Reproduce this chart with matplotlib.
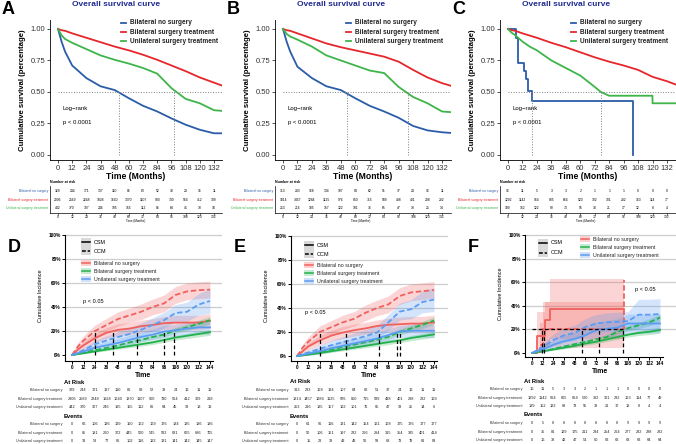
import matplotlib.pyplot as plt
from matplotlib import transforms
from matplotlib.lines import Line2D
from matplotlib.patches import Rectangle

plt.rcParams['font.family'] = ['Liberation Sans', 'DejaVu Sans']

W, H = 676, 444

# ---------------- overall survival (A, B, C) ----------------
km_t = [0, 3, 6, 12, 24, 36, 48, 60, 72, 84, 96, 108, 120, 132, 139]

a_blue = [1.0, 0.90, 0.82, 0.71, 0.61, 0.545, 0.515, 0.45, 0.39, 0.345, 0.29, 0.24, 0.20, 0.172, 0.172]
a_red = [1.0, 0.99, 0.985, 0.965, 0.93, 0.895, 0.86, 0.83, 0.795, 0.755, 0.71, 0.665, 0.615, 0.574, 0.55]
a_green = [1.0, 0.95, 0.92, 0.89, 0.84, 0.79, 0.755, 0.725, 0.69, 0.645, 0.53, 0.445, 0.41, 0.355, 0.35]
a_medians = [52, 98.5]

b_blue = [1.0, 0.90, 0.82, 0.70, 0.61, 0.545, 0.515, 0.45, 0.39, 0.345, 0.295, 0.23, 0.195, 0.18, 0.175]
b_red = [1.0, 0.99, 0.985, 0.965, 0.925, 0.885, 0.855, 0.83, 0.805, 0.78, 0.74, 0.675, 0.615, 0.57, 0.55]
b_green = [1.0, 0.96, 0.94, 0.915, 0.86, 0.79, 0.75, 0.71, 0.67, 0.65, 0.54, 0.46, 0.41, 0.345, 0.34]
b_medians = [53, 104]

c_red = [1.0, 0.99, 0.985, 0.965, 0.93, 0.89, 0.855, 0.815, 0.775, 0.74, 0.71, 0.675, 0.62, 0.585, 0.56]
c_green_t = [0, 3, 6, 12, 18, 24, 36, 48, 60, 72, 77, 84, 96, 108, 119.9, 120, 132, 139]
c_green = [1.0, 0.97, 0.95, 0.90, 0.86, 0.83, 0.75, 0.69, 0.63, 0.54, 0.50, 0.47, 0.47, 0.47, 0.47, 0.41, 0.41, 0.41]
c_blue_t = [0, 6.5, 8, 13, 15, 16.5, 20, 104]
c_blue = [1.0, 0.93, 0.73, 0.67, 0.60, 0.51, 0.43, 0.0]
c_medians = [20, 77]

km_groups = ['Bilateral no surgery', 'Bilateral surgery treatment', 'Unilateral surgery treatment']
km_ticks = list(range(0, 133, 12))

a_risk = [[329, 244, 171, 137, 110, 86, 63, 52, 38, 24, 16, 11],
          [2906, 2569, 2248, 1928, 1640, 1370, 1107, 900, 730, 564, 412, 309],
          [442, 370, 307, 246, 195, 155, 112, 86, 64, 45, 33, 18]]
b_risk = [[313, 233, 168, 134, 107, 84, 62, 51, 37, 24, 16, 11],
          [1814, 1457, 1284, 1125, 976, 850, 715, 589, 498, 401, 298, 232],
          [253, 216, 185, 157, 122, 101, 76, 65, 47, 33, 25, 14]]
c_risk = [[16, 11, 5, 3, 3, 2, 1, 1, 1, 0, 0, 0],
          [1292, 1142, 964, 805, 664, 520, 392, 301, 232, 163, 114, 77],
          [189, 152, 122, 89, 73, 55, 38, 21, 17, 12, 8, 4]]

# ---------------- cumulative incidence (D, E, F) ----------------
ci_t = [0, 6, 12, 24, 36, 48, 60, 72, 84, 96, 108, 120, 132, 144]

d_red_csm = [0, 4.5, 8, 14, 18.5, 21, 22, 24, 25, 26.5, 27, 27, 27, 28.5]
d_red_ocm = [0, 7, 12, 20, 25, 30, 33, 36, 40, 43, 50, 53, 54, 54.5]
d_green_csm = [0, 0.7, 1.5, 3, 4.5, 6, 7.5, 9, 10.5, 12.5, 14.5, 16, 17.5, 19]
d_green_ocm = [0, 1, 2, 4, 6, 8, 10.5, 12.5, 15, 17, 20.5, 23, 26, 29]
d_blue_csm = [0, 1.5, 3, 6, 8, 10, 12.5, 15, 17, 19.5, 20.5, 22, 23, 23]
d_blue_ocm = [0, 2, 4, 9, 12, 15, 17.5, 21, 25, 29, 35, 36, 42, 45]
d_red_ci = [0, 2, 3, 4, 4.5, 5, 5, 5, 5, 5.5, 6, 6, 6, 6]
d_red_ocm_ci = [0, 3, 4, 5, 5.5, 6, 6, 6.5, 6.5, 7, 7, 7, 7, 7]
d_green_ci = [0, 0.3, 0.5, 0.8, 1, 1.2, 1.4, 1.6, 1.8, 2, 2, 2.2, 2.4, 2.5]
d_green_ocm_ci = [0, 0.3, 0.5, 0.8, 1, 1.2, 1.5, 1.7, 2, 2.2, 2.5, 2.7, 3, 3]
d_blue_ci = [0, 1, 1.5, 2.5, 3, 3.5, 4, 4, 4.5, 5, 5, 5.5, 5.5, 5.5]
d_blue_ocm_ci = [0, 1.5, 2, 3, 4, 4.5, 5, 5.5, 6, 6.5, 7, 8, 9, 10]
d_cross = [24, 43, 68, 96, 106]

e_red_csm = [0, 4, 8, 13, 17, 19.5, 21.5, 23, 25, 26, 26.5, 27, 27, 28]
e_red_ocm = [0, 7, 12, 20, 24, 28, 31, 36, 40, 43, 50, 53, 54, 55]
e_green_csm = [0, 0.6, 1.2, 2.5, 4, 5.5, 7, 8.5, 10, 11.5, 13, 15, 16.5, 18]
e_green_ocm = [0, 0.8, 1.6, 3.5, 5.5, 7.5, 9.5, 11.5, 13.5, 16, 20, 23, 26, 29.5]
e_blue_csm = [0, 1, 2, 4, 6.5, 8.5, 10.5, 12.5, 14.5, 17.5, 20.5, 21, 21, 21]
e_blue_ocm = [0, 1.5, 3, 6, 9, 11.5, 14, 16.5, 19.5, 28, 37, 39, 45, 47]
e_cross = [24, 51, 86, 105, 108]

f_red_csm_t = [0, 6, 15, 20, 104]
f_red_csm = [0, 14, 28, 37, 37]
f_red_csm_lo = [0, 1, 5, 12, 12]
f_red_csm_hi = [0, 35, 43, 63, 63]
f_red_ocm_t = [0, 9, 12, 104]
f_red_ocm = [0, 7, 20, 62]
f_red_ocm_lo = [0, 1, 4, 4]
f_red_ocm_hi = [0, 25, 43, 43]
f_green_csm = [0, 0.8, 1.5, 3, 4.5, 6, 8, 9.5, 11.5, 13.5, 15.5, 17, 18, 19.5]
f_green_ocm = [0, 0.8, 1.6, 3.5, 5.5, 7.5, 9.5, 11.5, 13.5, 18, 21, 23.5, 26, 30]
f_blue_csm = [0, 1.5, 3, 7, 10, 12, 15, 19.5, 20.5, 21.5, 25, 25, 25, 25]
f_blue_ocm = [0, 2.5, 5, 11, 15, 17, 22, 25, 26, 26.5, 27, 32.5, 32.5, 33]
f_blue_ci = [0, 1.5, 2.5, 4, 5, 5.5, 6, 6.5, 7, 7.5, 8, 8, 8, 8]
f_blue_ocm_ci = [0, 2, 3, 5, 6, 6.5, 7, 7.5, 8, 8, 8, 13, 13, 13]
f_cross = [11, 14, 56, 75, 102]

ci_ticks = list(range(0, 145, 12))
d_atrisk = [[329, 244, 171, 137, 110, 86, 63, 52, 38, 24, 16, 11, 11],
            [2906, 2569, 2248, 1928, 1640, 1370, 1107, 900, 730, 564, 412, 309, 218],
            [442, 370, 307, 246, 195, 155, 112, 86, 64, 45, 33, 18, 13]]
d_events = [[0, 66, 106, 126, 139, 150, 162, 169, 176, 184, 185, 186, 186],
            [0, 85, 181, 260, 372, 445, 500, 545, 582, 631, 665, 686, 705],
            [0, 33, 53, 77, 86, 102, 116, 122, 131, 141, 142, 145, 147]]
e_atrisk = [[313, 233, 168, 134, 107, 84, 62, 51, 37, 24, 16, 11, 11],
            [1814, 1457, 1284, 1125, 976, 850, 715, 589, 498, 401, 298, 232, 169],
            [253, 216, 185, 157, 122, 101, 76, 65, 47, 33, 25, 14, 6]]
e_events = [[0, 61, 96, 116, 131, 142, 154, 161, 168, 175, 176, 177, 177],
            [0, 50, 106, 151, 197, 232, 266, 294, 315, 354, 385, 401, 414],
            [0, 15, 23, 33, 43, 48, 56, 59, 68, 73, 79, 81, 83]]
f_atrisk = [[16, 11, 5, 3, 3, 2, 1, 1, 1, 0, 0, 0, 0],
            [1292, 1142, 964, 805, 664, 520, 392, 301, 232, 163, 114, 77, 49],
            [189, 152, 122, 89, 73, 55, 38, 21, 17, 12, 8, 4, 4]]
f_events = [[0, 5, 8, 8, 8, 8, 8, 8, 8, 9, 9, 9, 9],
            [0, 35, 81, 129, 175, 211, 234, 254, 264, 277, 282, 288, 292],
            [0, 16, 38, 42, 47, 54, 60, 63, 63, 63, 63, 64, 64]]

KM_COLS = ['#2b5ca8', '#e6262b', '#3db54a']
CI_COLS = ['#f0605d', '#22b14c', '#5b9cf2']
CI_BOX = ['#fbd0cf', '#c6ebd0', '#cfe0fb']

fig = plt.figure(figsize=(W / 100, H / 100), dpi=100)


def box(l, t, r, b):
    return [l / W, 1 - b / H, (r - l) / W, (b - t) / H]


def ftext(x, y, s, **kw):
    fig.text(x / W, 1 - y / H, s, **kw)


def fline(x1, x2, y, **kw):
    fig.add_artist(Line2D([x1 / W, x2 / W], [1 - y / H, 1 - y / H], transform=fig.transFigure, **kw))


def frect(l, t, r, b, **kw):
    fig.add_artist(Rectangle((l / W, 1 - b / H), (r - l) / W, (b - t) / H,
                             transform=fig.transFigure, lw=0, **kw))


def km_panel(letter, pos, curves, medians, risk):
    l, r, x0, x132 = pos
    s = (x132 - x0) / 132
    ax = fig.add_axes(box(l, 20, r, 160))
    ax.set_xlim((l - x0) / s, (r - x0) / s)
    ax.set_ylim(-0.04, 1.071)
    for (t, v, step), c in zip(curves, KM_COLS):
        ax.plot(t, v, color=c, lw=1.3, drawstyle='steps-post' if step else 'default')
    ax.plot([0, 139], [0.5, 0.5], ls=':', color='#808080', lw=0.7)
    for m in medians:
        ax.plot([m, m], [0, 0.5], ls=':', color='#808080', lw=0.7)
    for sp in ['top', 'right']:
        ax.spines[sp].set_visible(False)
    ax.set_xticks(km_ticks)
    ax.set_yticks([0, 0.25, 0.5, 0.75, 1.0])
    ax.set_yticklabels(['0.00', '0.25', '0.50', '0.75', '1.00'])
    ax.tick_params(labelsize=5.5, length=2, pad=1.5, width=0.6, colors='#333333')
    for sp in ['left', 'bottom']:
        ax.spines[sp].set_linewidth(0.6)
    ax.set_xlabel('Time (Months)', fontsize=6.2, fontweight='bold', labelpad=0)
    ax.set_ylabel('Cumulative survival (percentage)', fontsize=5.6, fontweight='bold', labelpad=3)
    ax.text(4, 0.37, 'Log\u2212rank', fontsize=4.3, va='center')
    ax.text(4, 0.26, 'p < 0.0001', fontsize=4.3, va='center')
    ftext(x0 + 58, 5, 'Overall survival curve', fontsize=6, fontweight='bold',
          color='#1f2a8f', ha='center', va='center')
    ftext(l - 48, 9, letter, fontsize=13, fontweight='bold', ha='left', va='center')
    # legend
    for i, (name, c) in enumerate(zip(km_groups, KM_COLS)):
        y = 23 + 9 * i
        fline(x0 + 63, x0 + 68, y, color=c, lw=1.3)
        ftext(x0 + 72, y, name, fontsize=4.7, fontweight='bold', va='center', color='#222222')
    # risk table
    tb = fig.add_axes(box(l, 186, r, 213))
    tb.set_xlim(ax.get_xlim())
    tb.set_ylim(3.59, 0.41)
    for sp in ['top', 'right']:
        tb.spines[sp].set_visible(False)
    for sp in ['left', 'bottom']:
        tb.spines[sp].set_linewidth(0.5)
    tb.set_yticks([])
    tb.set_xticks(km_ticks)
    tb.tick_params(labelsize=2.4, length=1.2, pad=0.5, width=0.4)
    for i, row in enumerate(risk):
        for t, n in zip(km_ticks, row):
            tb.text(t, i + 1, str(n), fontsize=2.4, ha='center', va='center')
        tb.text(-0.01, i + 1, km_groups[i], transform=transforms.blended_transform_factory(tb.transAxes, tb.transData),
                fontsize=2.4, ha='right', va='center', color=KM_COLS[i])
    ftext(l, 182, 'Number at risk', fontsize=2.6, fontweight='bold', va='center')
    ftext(x0 + 78, 220.5, 'Time (Months)', fontsize=2.2, ha='center', va='center')


km_panel('A', (50, 222, 58, 214),
         [(km_t, a_blue, False), (km_t, a_red, False), (km_t, a_green, False)], a_medians, a_risk)
km_panel('B', (275, 451, 283, 442),
         [(km_t, b_blue, False), (km_t, b_red, False), (km_t, b_green, False)], b_medians, b_risk)
km_panel('C', (500, 676, 508, 667),
         [(c_blue_t, c_blue, True), (km_t, c_red, False), (c_green_t, c_green, False)], c_medians, c_risk)


def ci_panel(letter, pos, series, bands, crosses, hline, ptext, atrisk, events, leg, rows_y):
    l, r, x0, x144, y100, y0, bot = pos
    s = (x144 - x0) / 144
    sy = (y0 - y100) / 100
    ax = fig.add_axes(box(l, 231, r, bot))
    ax.set_xlim((l - x0) / s, (r - x0) / s)
    ax.set_ylim((y0 - bot) / sy, (y0 - 231) / sy)
    for g in [20, 40, 60, 80, 100]:
        ax.axhline(g, color='#cdcdcd', lw=0.9, zorder=0)
    for t, lo, hi, c, step in bands:
        ax.fill_between(t, lo, hi, color=c, alpha=0.26, lw=0, step='post' if step else None)
    for t, v, c, ls, step in series:
        ax.plot(t, v, color=c, lw=1.3, ls=ls, dashes=(3, 1.5) if ls == '--' else (None, None),
                drawstyle='steps-post' if step else 'default')
    if hline:
        ax.plot([0, max(crosses)], [20, 20], color='black', lw=0.9, dashes=(3, 2))
    for cx in crosses:
        ax.plot([cx, cx], [0, 20], color='black', lw=0.9, dashes=(3, 2))
    ax.text(ptext[0], ptext[1], 'p < 0.05', fontsize=4.1, va='center')
    for sp in ['top', 'right']:
        ax.spines[sp].set_visible(False)
    ax.spines['left'].set_bounds(ax.get_ylim()[0], 100)
    ax.spines['bottom'].set_bounds(ax.get_xlim()[0], 147)
    for sp in ['left', 'bottom']:
        ax.spines[sp].set_linewidth(0.8)
    ax.set_xticks(ci_ticks)
    ax.set_yticks([0, 20, 40, 60, 80, 100])
    ax.set_yticklabels(['0%', '20%', '40%', '60%', '80%', '100%'])
    ax.tick_params(labelsize=3.4, length=2, pad=1, width=0.7)
    for lab in ax.get_xticklabels() + ax.get_yticklabels():
        lab.set_fontweight('bold')
    ax.set_xlabel('Time', fontsize=5, fontweight='bold', labelpad=1)
    ax.set_ylabel('Cumulative Incidence', fontsize=4, labelpad=4)
    ftext(l - 57, 247, letter, fontsize=13, fontweight='bold', ha='left', va='center')
    # legends
    (cx1, cy1, cy2), (gx1, gy) = leg
    frect(cx1 - 1, cy1 - 4, cx1 + 9, cy2 + 4, color='#d9d9d9')
    fline(cx1, cx1 + 8, cy1, color='black', lw=1.1)
    fline(cx1, cx1 + 8, cy2, color='black', lw=1.1, ls=(0, (2.5, 1.2)))
    ftext(cx1 + 12, cy1, 'CSM', fontsize=3.9, va='center')
    ftext(cx1 + 12, cy2, 'OCM', fontsize=3.9, va='center')
    for i, (name, c, bc) in enumerate(zip(km_groups, CI_COLS, CI_BOX)):
        y = gy + 8 * i
        frect(gx1 - 1, y - 3, gx1 + 9, y + 3, color=bc)
        fline(gx1, gx1 + 8, y, color=c, lw=1.1)
        ftext(gx1 + 12, y, name, fontsize=3.8, va='center', color='#222222')
    # at risk / events tables
    tr = transforms.blended_transform_factory(ax.transData, fig.transFigure)
    hy, ry, ey, eyr = rows_y
    ftext(l - 1, hy, 'At Risk', fontsize=4.2, fontweight='bold', va='center')
    ftext(l - 1, ey, 'Events', fontsize=4.2, fontweight='bold', va='center')
    for block, ys in [(atrisk, ry), (events, eyr)]:
        for i, row in enumerate(block):
            y = ys + 8.5 * i
            ftext(l - 3, y, km_groups[i], fontsize=2.7, ha='right', va='center', color='#333333')
            for t, n in zip(ci_ticks, row):
                ax.text(t, 1 - y / H, str(n), transform=tr, fontsize=2.8, ha='center', va='center',
                        color='#222222')


def bands_for(t, curves, cis):
    out = []
    for v, ci, c in zip(curves, cis, [CI_COLS[0], CI_COLS[0], CI_COLS[1], CI_COLS[1], CI_COLS[2], CI_COLS[2]]):
        out.append((t, [a - b for a, b in zip(v, ci)], [a + b for a, b in zip(v, ci)], c, False))
    return out


def std_series(t, vals):
    cols = [CI_COLS[0], CI_COLS[0], CI_COLS[1], CI_COLS[1], CI_COLS[2], CI_COLS[2]]
    return [(t, v, c, '-' if i % 2 == 0 else '--', False) for i, (v, c) in enumerate(zip(vals, cols))]


ci_widths = [d_red_ci, d_red_ocm_ci, d_green_ci, d_green_ocm_ci, d_blue_ci, d_blue_ocm_ci]

d_vals = [d_red_csm, d_red_ocm, d_green_csm, d_green_ocm, d_blue_csm, d_blue_ocm]
ci_panel('D', (65, 222, 72, 210, 235, 355, 361), std_series(ci_t, d_vals),
         bands_for(ci_t, d_vals, ci_widths), d_cross, False, (11.5, 45),
         d_atrisk, d_events, ((82, 242, 251), (82, 263)), (382, 390, 416, 424))

e_vals = [e_red_csm, e_red_ocm, e_green_csm, e_green_ocm, e_blue_csm, e_blue_ocm]
ci_panel('E', (291, 448, 297, 434, 236, 356, 361), std_series(ci_t, e_vals),
         bands_for(ci_t, e_vals, ci_widths), e_cross, False, (8.4, 36),
         e_atrisk, e_events, ((305, 245, 254), (305, 265)), (381, 390, 416, 424))

f_vals = [f_green_csm, f_green_ocm, f_blue_csm, f_blue_ocm]
f_series = [(f_red_csm_t, f_red_csm, CI_COLS[0], '-', True), (f_red_ocm_t, f_red_ocm, CI_COLS[0], '--', True)] + \
    std_series(ci_t, [f_red_csm, f_red_csm] + f_vals)[2:]
f_bands = [(f_red_csm_t, f_red_csm_lo, f_red_csm_hi, CI_COLS[0], True),
           (f_red_ocm_t, f_red_ocm_lo, f_red_ocm_hi, CI_COLS[0], True)] + \
    bands_for(ci_t, [f_red_csm, f_red_csm] + f_vals,
              [d_red_ci, d_red_ci, d_green_ci, d_green_ocm_ci, f_blue_ci, f_blue_ocm_ci])[2:]
ci_panel('F', (525, 676, 532, 660, 235, 353, 357), f_series, f_bands, f_cross, True, (116, 53.6),
         f_atrisk, f_events, ((539, 243, 253), (581, 239)), (381, 389, 414.5, 423))

fig.savefig('out.png', dpi=100)
